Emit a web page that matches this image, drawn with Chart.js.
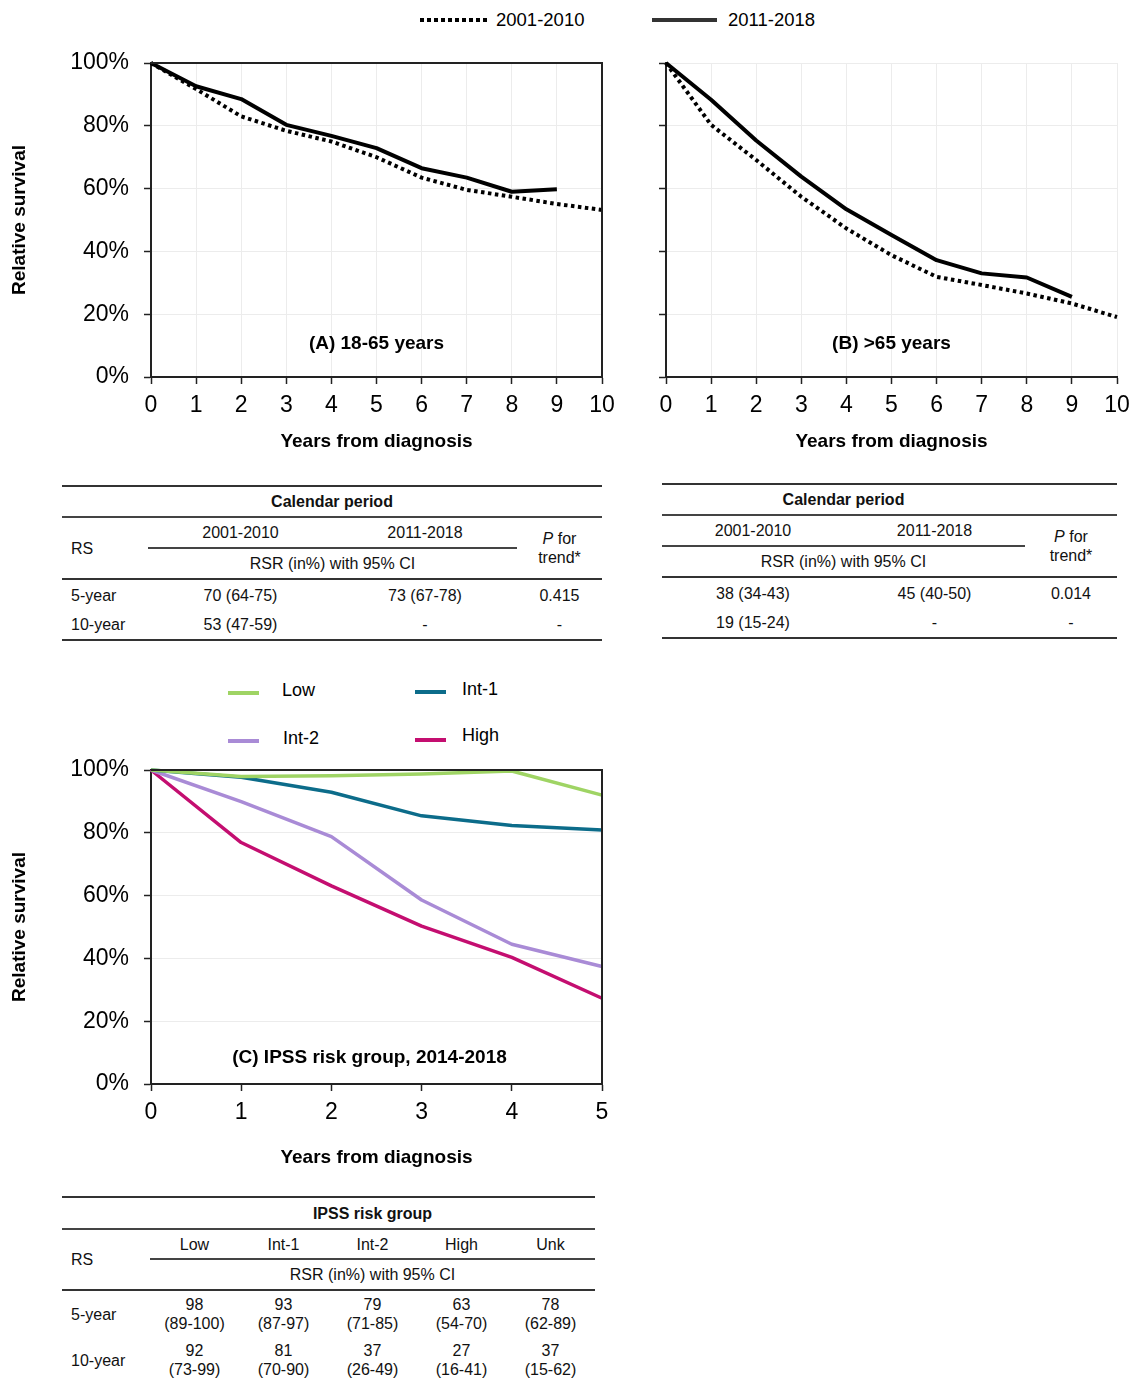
<!DOCTYPE html>
<html>
<head>
<meta charset="utf-8">
<script src="https://cdn.jsdelivr.net/npm/chart.js@4.4.0/dist/chart.umd.min.js"></script>
<style>
  body { margin: 0; background: #fff; font-family: "Liberation Sans", Arial, sans-serif; color: #000; }
  #page { position: relative; width: 1133px; height: 1380px; overflow: hidden; }
  canvas { position: absolute; }
  .lg { position: absolute; font-size: 18.5px; line-height: 20px; white-space: nowrap; }
  .sw { position: absolute; height: 4px; }
  .panel { position: absolute; font-size: 19px; font-weight: bold; line-height: 22px; text-align: center; }
  table { position: absolute; border-collapse: collapse; table-layout: fixed; font-size: 16px; color: #111; }
  td { padding: 0; text-align: center; vertical-align: middle; line-height: 19px; }
  td.l { text-align: left; padding-left: 9px; }
  td.h { font-weight: bold; }
  .tp { border-top: 2px solid #333; }
  .bt { border-bottom: 2px solid #333; }
  .in { border-bottom: 2px solid #444; }
</style>
</head>
<body>
<div id="page">
  <!-- top legend -->
  <div class="sw" style="left:420px;top:18px;width:67px;background:repeating-linear-gradient(90deg,#000 0 4px,transparent 4px 7px);"></div>
  <div class="lg" style="left:496px;top:10px;">2001-2010</div>
  <div class="sw" style="left:652px;top:18px;width:65px;background:#333;"></div>
  <div class="lg" style="left:728px;top:10px;">2011-2018</div>

  <canvas id="chartA" width="620" height="420" style="left:0;top:45px;"></canvas>
  <canvas id="chartB" width="513" height="420" style="left:620px;top:45px;"></canvas>
  <div class="panel" style="left:151px;top:332px;width:451px;">(A) 18-65 years</div>
  <div class="panel" style="left:666px;top:332px;width:451px;">(B) &gt;65 years</div>

  <table style="left:62px;top:485px;width:540px;">
    <colgroup><col style="width:86px"><col style="width:185px"><col style="width:184px"><col style="width:85px"></colgroup>
    <tr style="height:31px"><td colspan="4" class="h tp in">Calendar period</td></tr>
    <tr style="height:31px"><td rowspan="2" class="l bt">RS</td><td class="in">2001-2010</td><td class="in">2011-2018</td><td rowspan="2" class="bt"><i>P</i> for<br>trend*</td></tr>
    <tr style="height:31px"><td colspan="2" class="bt">RSR (in%) with 95% CI</td></tr>
    <tr style="height:31px"><td class="l">5-year</td><td>70 (64-75)</td><td>73 (67-78)</td><td>0.415</td></tr>
    <tr style="height:30px"><td class="l bt">10-year</td><td class="bt">53 (47-59)</td><td class="bt">-</td><td class="bt">-</td></tr>
  </table>

  <table style="left:662px;top:483px;width:455px;">
    <colgroup><col style="width:182px"><col style="width:181px"><col style="width:92px"></colgroup>
    <tr style="height:31px"><td colspan="2" class="h tp in">Calendar period</td><td class="tp in"></td></tr>
    <tr style="height:31px"><td class="in">2001-2010</td><td class="in">2011-2018</td><td rowspan="2" class="bt"><i>P</i> for<br>trend*</td></tr>
    <tr style="height:31px"><td colspan="2" class="bt">RSR (in%) with 95% CI</td></tr>
    <tr style="height:31px"><td>38 (34-43)</td><td>45 (40-50)</td><td>0.014</td></tr>
    <tr style="height:30px"><td class="bt">19 (15-24)</td><td class="bt">-</td><td class="bt">-</td></tr>
  </table>

  <!-- IPSS legend -->
  <div class="sw" style="left:228px;top:691px;width:31px;background:#9fd464;"></div>
  <div class="lg" style="left:282px;top:680px;font-size:18px;">Low</div>
  <div class="sw" style="left:415px;top:690px;width:31px;background:#0c6c8a;"></div>
  <div class="lg" style="left:462px;top:679px;font-size:18px;">Int-1</div>
  <div class="sw" style="left:228px;top:739px;width:31px;background:#a98bd6;"></div>
  <div class="lg" style="left:283px;top:728px;font-size:18px;">Int-2</div>
  <div class="sw" style="left:415px;top:738px;width:31px;background:#c40e70;"></div>
  <div class="lg" style="left:462px;top:725px;font-size:18px;">High</div>

  <canvas id="chartC" width="620" height="429" style="left:0;top:752px;"></canvas>
  <div class="panel" style="left:151px;top:1046px;width:437px;">(C) IPSS risk group, 2014-2018</div>

  <table style="left:62px;top:1196px;width:533px;">
    <colgroup><col style="width:88px"><col style="width:89px"><col style="width:89px"><col style="width:89px"><col style="width:89px"><col style="width:89px"></colgroup>
    <tr style="height:32px"><td class="tp in"></td><td colspan="5" class="h tp in">IPSS risk group</td></tr>
    <tr style="height:30px"><td rowspan="2" class="l bt">RS</td><td class="in">Low</td><td class="in">Int-1</td><td class="in">Int-2</td><td class="in">High</td><td class="in">Unk</td></tr>
    <tr style="height:31px"><td colspan="5" class="bt">RSR (in%) with 95% CI</td></tr>
    <tr style="height:47px"><td class="l">5-year</td><td>98<br>(89-100)</td><td>93<br>(87-97)</td><td>79<br>(71-85)</td><td>63<br>(54-70)</td><td>78<br>(62-89)</td></tr>
    <tr style="height:46px"><td class="l">10-year</td><td>92<br>(73-99)</td><td>81<br>(70-90)</td><td>37<br>(26-49)</td><td>27<br>(16-41)</td><td>37<br>(15-62)</td></tr>
  </table>
</div>

<script>
// years from diagnosis
const yearsAB = [0, 1, 2, 3, 4, 5, 6, 7, 8, 9, 10];
const yearsC = [0, 1, 2, 3, 4, 5];
const yTicks = [0, 20, 40, 60, 80, 100];

// (A) 18-65 years
const a2001 = [100, 91.7, 83, 78.4, 75, 70, 63.5, 59.6, 57.4, 55.1, 53.2];
const a2011 = [100, 92.6, 88.5, 80.3, 76.8, 72.9, 66.5, 63.5, 59, 59.8];

// (B) >65 years
const b2001 = [100, 80.3, 69.1, 57.4, 47.3, 38.8, 31.9, 29.3, 26.6, 23.4, 19.1];
const b2011 = [100, 88.3, 75.3, 63.8, 53.4, 45.2, 37.2, 33, 31.7, 25.5];

// (C) IPSS risk group, 2014-2018
const cLow = [100, 97.9, 98.2, 98.7, 99.7, 92];
const cInt1 = [100, 97.7, 92.9, 85.4, 82.3, 80.9];
const cInt2 = [100, 89.9, 78.8, 58.6, 44.5, 37.4];
const cHigh = [100, 76.9, 63.1, 50.3, 40.3, 27.3];

Chart.defaults.font.family = '"Liberation Sans", Arial, sans-serif';

// black frame on top and right of the plot area
const framePlugin = {
  id: 'frame',
  afterDatasetsDraw(chart, args, opts) {
    if (!opts.show) return;
    const { ctx, chartArea: a } = chart;
    ctx.save();
    ctx.strokeStyle = '#222';
    ctx.lineWidth = 2;
    ctx.beginPath();
    ctx.moveTo(a.left, a.top);
    ctx.lineTo(a.right, a.top);
    ctx.lineTo(a.right, a.bottom);
    ctx.stroke();
    ctx.restore();
  }
};

function series(years, values, color, width, dash) {
  return {
    data: values.map((v, i) => ({ x: years[i], y: v })),
    borderColor: color,
    borderWidth: width,
    borderDash: dash || [],
    borderJoinStyle: 'round',
    pointRadius: 0,
    fill: false,
    clip: false
  };
}

// the layout padding alone decides where the plot area sits
function noPad(s) {
  s.paddingTop = 0;
  s.paddingBottom = 0;
  s.paddingLeft = 0;
  s.paddingRight = 0;
}

function survivalChart(id, years, datasets, o) {
  return new Chart(document.getElementById(id), {
    type: 'line',
    data: { datasets },
    plugins: [framePlugin],
    options: {
      responsive: false,
      animation: false,
      layout: { padding: { top: 18, right: o.right, left: 0, bottom: 0 } },
      plugins: { legend: { display: false }, tooltip: { enabled: false }, frame: { show: o.frame } },
      scales: {
        x: {
          type: 'linear',
          min: 0,
          max: years[years.length - 1],
          afterFit: s => { s.height = o.xh; noPad(s); },
          afterBuildTicks: s => { s.ticks = years.map(v => ({ value: v })); },
          ticks: { font: { size: 23 }, color: '#000', padding: 8, maxRotation: 0, autoSkip: false },
          grid: { drawOnChartArea: o.vgrid, color: '#ececec', tickColor: '#222', tickLength: 7, tickWidth: 1.5 },
          border: { color: '#222', width: 2 },
          title: { display: true, text: 'Years from diagnosis', color: '#000', font: { size: 19, weight: 'bold' }, padding: { top: 0, bottom: 12 } }
        },
        y: {
          min: 0,
          max: 100,
          afterFit: s => { s.width = o.yw; noPad(s); },
          afterBuildTicks: s => { s.ticks = yTicks.map(v => ({ value: v })); },
          ticks: { display: o.ylabels, font: { size: 23 }, color: '#000', padding: 15, callback: v => v + '%' },
          grid: { color: '#ececec', tickColor: '#222', tickLength: 7, tickWidth: 1.5 },
          border: { color: '#222', width: 2 },
          title: { display: o.ylabels, text: 'Relative survival', color: '#000', font: { size: 19, weight: 'bold' }, padding: { top: 8, bottom: 0 } }
        }
      }
    }
  });
}

survivalChart('chartA', yearsAB, [
  series(yearsAB, a2001, '#000', 4, [3.5, 3.5]),
  series(yearsAB, a2011, '#000', 4)
], { right: 18, xh: 88, yw: 151, frame: true, vgrid: true, ylabels: true });

survivalChart('chartB', yearsAB, [
  series(yearsAB, b2001, '#000', 4, [3.5, 3.5]),
  series(yearsAB, b2011, '#000', 4)
], { right: 16, xh: 88, yw: 46, frame: false, vgrid: true, ylabels: false });

survivalChart('chartC', yearsC, [
  series(yearsC, cLow, '#9fd464', 3.5),
  series(yearsC, cInt1, '#0c6c8a', 3.5),
  series(yearsC, cInt2, '#a98bd6', 3.5),
  series(yearsC, cHigh, '#c40e70', 3.5)
], { right: 18, xh: 97, yw: 151, frame: true, vgrid: false, ylabels: true });
</script>
</body>
</html>
